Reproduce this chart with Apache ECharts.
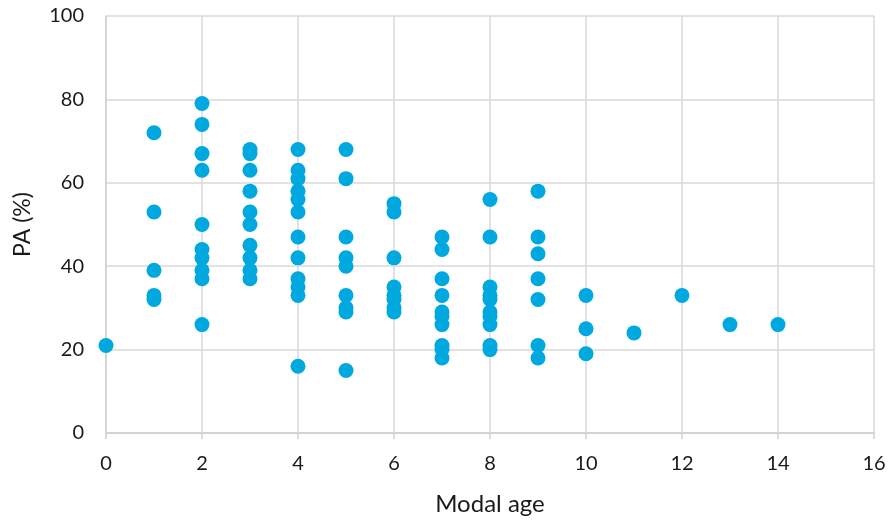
<!DOCTYPE html>
<html>
<head>
<meta charset="utf-8">
<script src="https://cdn.jsdelivr.net/npm/echarts@6/dist/echarts.min.js"></script>
<style>html,body{margin:0;padding:0;background:#fff}#c{width:889px;height:522px}</style>
</head>
<body>
<div id="c"></div>
<script>
// Modal age (x) and PA % (y), grouped by modal age column
const ages = [0, 1, 2, 3, 4, 5, 6, 7, 8, 9, 10, 11, 12, 13, 14];
const paByAge = [
  [21],
  [72, 53, 39, 33, 32],
  [79, 74, 67, 63, 50, 44, 42, 39, 37, 26],
  [68, 67, 63, 58, 53, 50, 45, 42, 39, 37],
  [68, 63, 61, 58, 56, 53, 47, 42, 37, 35, 33, 16],
  [68, 61, 47, 42, 40, 33, 30, 29, 15],
  [55, 53, 42, 35, 33, 32, 30, 29],
  [47, 44, 37, 33, 29, 28, 26, 21, 20, 18],
  [56, 47, 35, 33, 32, 29, 28, 26, 21, 20],
  [58, 47, 43, 37, 32, 21, 18],
  [33, 25, 19],
  [24],
  [33],
  [26],
  [26]
];
const xTicks = [0, 2, 4, 6, 8, 10, 12, 14, 16];
const yTicks = [0, 20, 40, 60, 80, 100];

const points = [];
ages.forEach((a, i) => paByAge[i].forEach(v => points.push([a, v])));

const chart = echarts.init(document.getElementById('c'), null, {renderer: 'canvas'});
const font = 'Lato, "Open Sans", sans-serif';
chart.setOption({
  animation: false,
  grid: {left: 106, right: 15, top: 16, bottom: 89},
  xAxis: {
    type: 'value', min: xTicks[0], max: xTicks[xTicks.length - 1], interval: 2,
    name: 'Modal age', nameLocation: 'middle', nameGap: 59,
    nameTextStyle: {fontFamily: font, fontSize: 24, color: '#1a1a1a'},
    axisLine: {show: true, lineStyle: {color: '#d0d0d0', width: 1.5}},
    axisTick: {show: true, length: 6, lineStyle: {color: '#d0d0d0', width: 1.5}},
    axisLabel: {fontFamily: font, fontSize: 20, color: '#1a1a1a', margin: 21},
    splitLine: {show: true, lineStyle: {color: '#d9d9d9', width: 1.5}}
  },
  yAxis: {
    type: 'value', min: yTicks[0], max: yTicks[yTicks.length - 1], interval: 20,
    name: 'PA (%)', nameLocation: 'middle', nameGap: 72, nameRotate: 90,
    nameTextStyle: {fontFamily: font, fontSize: 23, color: '#1a1a1a'},
    axisLine: {show: true, lineStyle: {color: '#d0d0d0', width: 1.5}},
    axisTick: {show: false},
    axisLabel: {fontFamily: font, fontSize: 20, color: '#1a1a1a', margin: 22},
    splitLine: {show: true, lineStyle: {color: '#d9d9d9', width: 1.5}}
  },
  series: [{
    type: 'scatter',
    data: points,
    symbol: 'circle',
    symbolSize: 15,
    itemStyle: {color: '#00a8e0', opacity: 1}
  }]
});
</script>
</body>
</html>
